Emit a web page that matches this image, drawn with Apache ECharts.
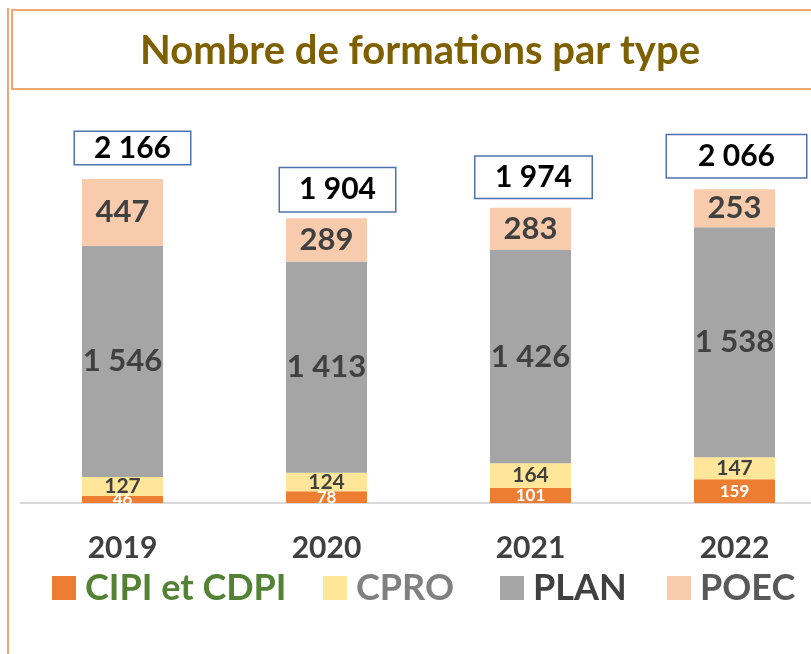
<!DOCTYPE html>
<html>
<head>
    <meta charset="utf-8">
    <title>Nombre de formations par type</title>
    <style>
        html, body { margin: 0; padding: 0; background: #fff; }
        #chart { width: 811px; height: 654px; }
    </style>
</head>
<body>
    <div id="chart"></div>
    <script src="https://cdn.jsdelivr.net/npm/echarts@6/dist/echarts.min.js"></script>
    <script>
        // données
        var years = ['2019', '2020', '2021', '2022'];
        var cipi = [46, 78, 101, 159];
        var cpro = [127, 124, 164, 147];
        var plan = [1546, 1413, 1426, 1538];
        var poec = [447, 289, 283, 253];
        var totals = [2166, 1904, 1974, 2066];

        var colors = ['#ED7D31', '#FFE699', '#A5A5A5', '#F8CBAD'];
        var font = 'Lato, "Open Sans", sans-serif';

        // 1546 -> "1 546"
        function fmt(n) {
            return String(n).replace(/\B(?=(\d{3})+(?!\d))/g, ' ');
        }

        // cadres des totaux (un peu décalés comme dans l'original)
        var boxes = [
            { w: 118, h: 35, dx: 10, gap: 15 },
            { w: 118, h: 46, dx: 11, gap: 7 },
            { w: 119, h: 44, dx: 3, gap: 10 },
            { w: 142, h: 45, dx: 2, gap: 12 }
        ];

        var chart = echarts.init(document.getElementById('chart'));

        function segLabel(size, color) {
            return {
                show: true,
                position: 'inside',
                formatter: function (p) { return fmt(p.value); },
                fontFamily: font,
                fontWeight: 'bold',
                fontSize: size,
                color: color
            };
        }

        var legendNames = ['CIPI et CDPI', 'CPRO', 'PLAN', 'POEC'];
        var legendColors = ['#548235', '#808080', '#404040', '#595959'];
        var legendLeft = [47, 318, 495, 662];
        var legends = legendNames.map(function (name, i) {
            return {
                data: [name],
                left: legendLeft[i],
                top: 565,
                itemWidth: 24,
                itemHeight: 24,
                icon: 'rect',
                selectedMode: false,
                textStyle: {
                    fontFamily: font,
                    fontWeight: 'bold',
                    fontSize: 36,
                    color: legendColors[i],
                    padding: [0, 0, 0, 4]
                }
            };
        });

        var option = {
            animation: false,
            title: {
                text: 'Nombre de formations par type',
                left: 415,
                textAlign: 'center',
                top: 26,
                textStyle: {
                    fontFamily: font,
                    fontWeight: 'bold',
                    fontSize: 40,
                    color: '#7F6000'
                }
            },
            graphic: [
                {
                    type: 'line',
                    shape: { x1: 8, y1: 8, x2: 8, y2: 654 },
                    style: { stroke: '#F4A672', lineWidth: 2 }
                },
                {
                    type: 'rect',
                    z: -1,
                    shape: { x: 12, y: 10, width: 820, height: 79 },
                    style: { fill: '#fff', stroke: '#F4A672', lineWidth: 2 }
                }
            ],
            legend: legends,
            grid: {
                left: 20.5, right: -25.5, top: 129, bottom: 151,
                containLabel: false,
                outerBoundsMode: 'none'
            },
            xAxis: {
                type: 'category',
                data: years,
                axisLine: { lineStyle: { color: '#D9D9D9', width: 2 } },
                axisTick: { show: false },
                axisLabel: {
                    margin: 30,
                    fontFamily: font,
                    fontWeight: 'bold',
                    fontSize: 30,
                    color: '#404040'
                }
            },
            yAxis: {
                type: 'value',
                min: 0,
                max: 2500,
                show: false,
                splitLine: { show: false }
            },
            series: [
                {
                    name: 'CIPI et CDPI', type: 'bar', stack: 'total', barWidth: 81,
                    itemStyle: { color: colors[0] },
                    label: segLabel(17, '#fff'),
                    data: cipi
                },
                {
                    name: 'CPRO', type: 'bar', stack: 'total',
                    itemStyle: { color: colors[1] },
                    label: segLabel(21, '#404040'),
                    data: cpro
                },
                {
                    name: 'PLAN', type: 'bar', stack: 'total',
                    itemStyle: { color: colors[2] },
                    label: segLabel(31, '#404040'),
                    data: plan
                },
                {
                    name: 'POEC', type: 'bar', stack: 'total',
                    itemStyle: { color: colors[3] },
                    label: segLabel(31, '#404040'),
                    data: poec
                },
                {
                    // totaux dans un cadre au-dessus de chaque barre
                    name: 'Total', type: 'bar', stack: 'total',
                    silent: true,
                    data: totals.map(function (t, i) {
                        var b = boxes[i];
                        return {
                            value: 0,
                            label: {
                                show: true,
                                position: 'top',
                                distance: b.gap,
                                offset: [b.dx, 0],
                                width: b.w - 3,
                                height: b.h - 3,
                                lineHeight: b.h - 3,
                                align: 'center',
                                formatter: fmt(t),
                                fontFamily: font,
                                fontWeight: 'bold',
                                fontSize: 30,
                                color: '#000',
                                backgroundColor: '#fff',
                                borderColor: '#4F71B0',
                                borderWidth: 1.5
                            }
                        };
                    })
                }
            ]
        };

        chart.setOption(option);
        window.addEventListener('resize', function () {
            chart.resize();
        });
    </script>
</body>
</html>
